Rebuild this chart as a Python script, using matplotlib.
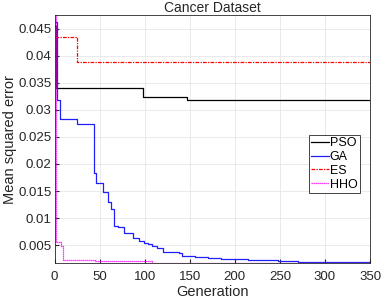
import numpy as np
import matplotlib
matplotlib.use('Agg')
import matplotlib.pyplot as plt

plt.rcParams['font.family'] = ['Liberation Sans', 'DejaVu Sans']

# step curves: (generation, error) breakpoints
pso_gen = [0, 2, 98, 147, 350]
pso_err = [0.0455, 0.0341, 0.0323, 0.0318, 0.0318]

ga_gen = [1, 3, 6, 25, 44, 46, 48, 54, 59, 63, 66, 70, 77, 87, 94, 99, 104, 108,
          114, 120, 138, 141, 156, 170, 185, 200, 215, 230, 248, 270, 303, 330, 350]
ga_err = [0.0462, 0.0319, 0.0283, 0.0274, 0.0183, 0.0164, 0.0164, 0.0148, 0.0130,
          0.0116, 0.0086, 0.0084, 0.0073, 0.0063, 0.0057, 0.0054, 0.0052, 0.0049,
          0.0045, 0.0038, 0.0035, 0.0030, 0.0029, 0.0027, 0.0025, 0.0024, 0.0023,
          0.0022, 0.0020, 0.00195, 0.0019, 0.00185, 0.0018]

es_gen = [0, 25, 350]
es_err = [0.0435, 0.0388, 0.0388]

hho_gen = [0, 1.5, 7, 9.5, 45, 108, 350]
hho_err = [0.0475, 0.0055, 0.0049, 0.0022, 0.0021, 0.0018, 0.00175]

fig = plt.figure(figsize=(3.82, 3.02), dpi=100)
ax = fig.add_axes([0.1427, 0.129, 0.826, 0.821])

for gen, err, c, ls, lab in [(pso_gen, pso_err, 'black', '-', 'PSO'),
                             (ga_gen, ga_err, '#2020ff', '-', 'GA'),
                             (es_gen, es_err, 'red', (0, (3, 1, 1, 1)), 'ES'),
                             (hho_gen, hho_err, 'magenta', (0, (1, 0.6)), 'HHO')]:
    ax.step(gen, err, where='post', color=c, linestyle=ls, linewidth=0.9, label=lab)

ax.set_xlim(0, 350)
ax.set_ylim(0.0017, 0.0475)
ax.set_xticks(np.arange(0, 351, 50))
ax.set_yticks([0.005, 0.01, 0.015, 0.02, 0.025, 0.03, 0.035, 0.04, 0.045])
ax.set_yticklabels(['0.005', '0.01', '0.015', '0.02', '0.025', '0.03', '0.035', '0.04', '0.045'])
ax.tick_params(direction='in', labelsize=9.5, length=3, colors='#262626', pad=2)
ax.tick_params(axis='x', pad=6)
ax.grid(True, color='#e6e6e6', linewidth=0.6)
for s in ax.spines.values():
    s.set_color('#262626')
    s.set_linewidth(0.6)

ax.set_xlabel('Generation', fontsize=10.5, color='#262626', labelpad=1)
ax.set_ylabel('Mean squared error', fontsize=10.5, color='#262626', labelpad=1)
ax.set_title('Cancer Dataset', fontsize=10, color='#262626', pad=2)

leg = ax.legend(loc='center right', bbox_to_anchor=(0.988, 0.40), fontsize=9,
                handlelength=1.4, handletextpad=0.1, borderpad=0.2,
                labelspacing=0.15, fancybox=False, edgecolor='#262626', framealpha=1)
leg.get_frame().set_linewidth(0.6)

fig.savefig('out.png', dpi=100)
